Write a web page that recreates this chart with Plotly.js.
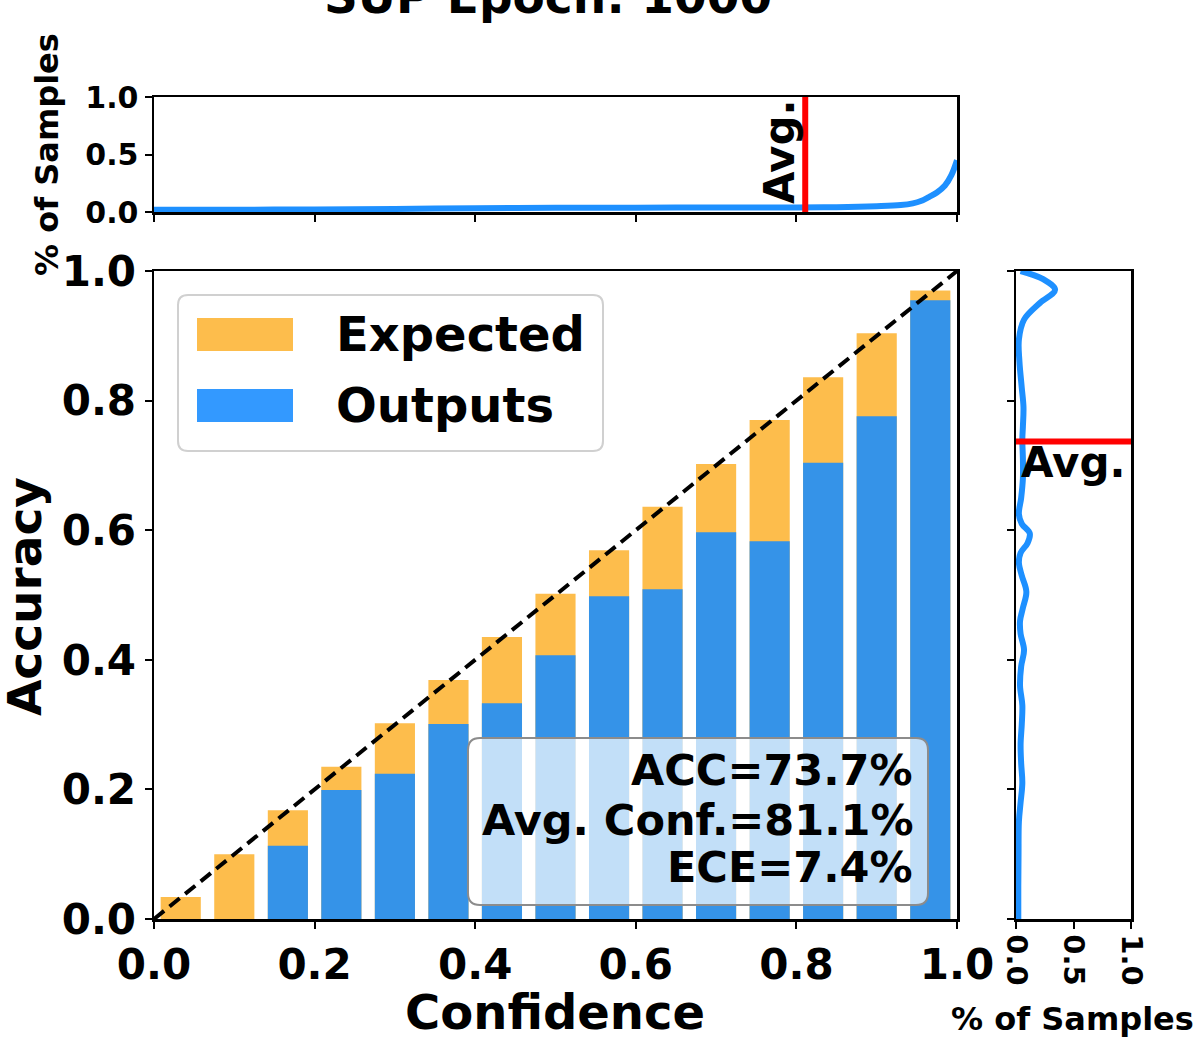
<!DOCTYPE html>
<html>
<head>
<meta charset="utf-8">
<script src="https://cdn.plot.ly/plotly-3.0.1.min.js"></script>
<style>html,body{margin:0;padding:0;background:#fff;}#chart{width:1196px;height:1038px;}</style>
</head>
<body>
<div id="chart"></div>
<script>
// ---- data ----
const binCenters = [0.0333, 0.1, 0.1667, 0.2333, 0.3, 0.3667, 0.4333, 0.5, 0.5667, 0.6333, 0.7, 0.7667, 0.8333, 0.9, 0.9667];
const expected   = [0.034, 0.100, 0.168, 0.235, 0.302, 0.369, 0.435, 0.502, 0.569, 0.636, 0.702, 0.770, 0.836, 0.904, 0.970];
const outputs    = [0.0, 0.0, 0.113, 0.199, 0.224, 0.301, 0.333, 0.407, 0.498, 0.509, 0.597, 0.583, 0.704, 0.776, 0.955];
const confGrid    = [0, 0.1, 0.2, 0.3, 0.4, 0.5, 0.6, 0.7, 0.8, 0.85, 0.9, 0.93, 0.945, 0.955, 0.965, 0.975, 0.985, 0.993, 1.0];
const confDensity = [0.02, 0.02, 0.022, 0.027, 0.032, 0.036, 0.038, 0.039, 0.04, 0.042, 0.05, 0.06, 0.075, 0.095, 0.13, 0.17, 0.23, 0.32, 0.45];
const accGrid    = [1.0, 0.987, 0.971, 0.951, 0.925, 0.894, 0.86, 0.82, 0.79, 0.76, 0.74, 0.71, 0.68, 0.65, 0.625, 0.61, 0.595, 0.58, 0.565, 0.55, 0.53, 0.505, 0.48, 0.46, 0.44, 0.415, 0.39, 0.36, 0.33, 0.30, 0.27, 0.24, 0.21, 0.18, 0.15, 0.10, 0.05, 0.0];
const accDensity = [0.04, 0.24, 0.34, 0.21, 0.07, 0.025, 0.03, 0.05, 0.065, 0.06, 0.055, 0.06, 0.06, 0.045, 0.025, 0.05, 0.12, 0.10, 0.04, 0.025, 0.05, 0.09, 0.06, 0.035, 0.04, 0.07, 0.045, 0.035, 0.055, 0.05, 0.04, 0.045, 0.055, 0.04, 0.025, 0.022, 0.02, 0.02];
const accuracy = 0.737;
const avgConf = 0.811;
const ece = 0.074;
const mainTicks = [0, 0.2, 0.4, 0.6, 0.8, 1.0];
const mainTickText = ["0.0", "0.2", "0.4", "0.6", "0.8", "1.0"];
const sideTicks = [0, 0.5, 1.0];
const sideTickText = ["0.0", "0.5", "1.0"];
const legendLabels = ["Expected", "Outputs"];
const titleText = "SUP Epoch: 1000";

// ---- styling ----
const W = 1196, H = 1038;
const FF = "DejaVu Sans";
const ORANGE = "#FDBD4C", BLUE_BAR = "#3593E8", BLUE_LEG = "#3399FF", CURVE = "#1E90FF";
const px = x => x / W;
const py = y => 1 - y / H;
const bold = (size) => ({family: FF, size: size, color: "#000", weight: "bold"});

function roundRect(x0, y0, x1, y1, r) {
  const X0 = px(x0), X1 = px(x1), Y0 = py(y0), Y1 = py(y1);
  const rx = r / W, ry = r / H;
  return `M ${X0 + rx},${Y0} L ${X1 - rx},${Y0} Q ${X1},${Y0} ${X1},${Y0 - ry} ` +
         `L ${X1},${Y1 + ry} Q ${X1},${Y1} ${X1 - rx},${Y1} L ${X0 + rx},${Y1} ` +
         `Q ${X0},${Y1} ${X0},${Y1 + ry} L ${X0},${Y0 - ry} Q ${X0},${Y0} ${X0 + rx},${Y0} Z`;
}

const axisBase = {
  showline: true, mirror: true, linecolor: "#000", linewidth: 2.5,
  ticks: "outside", ticklen: 7, tickwidth: 2, tickcolor: "#000",
  showgrid: false, zeroline: false, range: [0, 1], fixedrange: true
};

const traces = [
  {type: "bar", x: binCenters, y: expected, width: 0.05, marker: {color: ORANGE, line: {width: 0}},
   xaxis: "x", yaxis: "y", showlegend: false, name: legendLabels[0]},
  {type: "bar", x: binCenters, y: outputs, width: 0.05, marker: {color: BLUE_BAR, line: {width: 0}},
   xaxis: "x", yaxis: "y", showlegend: false, name: legendLabels[1]},
  {type: "scatter", mode: "lines", x: [0, 1], y: [0, 1], line: {color: "#000", width: 4, dash: "13px,7px"},
   xaxis: "x", yaxis: "y", showlegend: false},
  {type: "scatter", mode: "lines", x: confGrid, y: confDensity, line: {color: CURVE, width: 6, shape: "spline"},
   xaxis: "x2", yaxis: "y2", showlegend: false},
  {type: "scatter", mode: "lines", x: [avgConf, avgConf], y: [0, 1], line: {color: "#FF0000", width: 6},
   xaxis: "x2", yaxis: "y2", showlegend: false},
  {type: "scatter", mode: "lines", x: accDensity, y: accGrid, line: {color: CURVE, width: 6, shape: "spline"},
   xaxis: "x3", yaxis: "y3", showlegend: false},
  {type: "scatter", mode: "lines", x: [0, 1], y: [accuracy, accuracy], line: {color: "#FF0000", width: 6},
   xaxis: "x3", yaxis: "y3", showlegend: false}
];

const fmt = v => (v * 100).toFixed(1) + "%";

const layout = {
  width: W, height: H,
  margin: {l: 0, r: 0, t: 0, b: 0},
  paper_bgcolor: "#fff", plot_bgcolor: "#fff",
  barmode: "overlay",
  showlegend: false,
  font: {family: FF},
  xaxis: Object.assign({}, axisBase, {domain: [px(154), px(957)], anchor: "y",
    tickvals: mainTicks, ticktext: mainTickText, tickfont: bold(42)}),
  yaxis: Object.assign({}, axisBase, {domain: [py(919), py(271)], anchor: "x",
    tickvals: mainTicks, ticktext: mainTickText, tickfont: bold(42)}),
  xaxis2: Object.assign({}, axisBase, {domain: [px(154), px(957)], anchor: "y2",
    tickvals: mainTicks, showticklabels: false}),
  yaxis2: Object.assign({}, axisBase, {domain: [py(212), py(97)], anchor: "x2",
    tickvals: sideTicks, ticktext: sideTickText, tickfont: bold(30)}),
  xaxis3: Object.assign({}, axisBase, {domain: [px(1016), px(1131)], anchor: "y3",
    tickvals: sideTicks, ticktext: sideTickText, tickfont: bold(29), tickangle: 90}),
  yaxis3: Object.assign({}, axisBase, {domain: [py(919), py(271)], anchor: "x3",
    tickvals: mainTicks, showticklabels: false}),
  shapes: [
    // legend frame and patches
    {type: "path", xref: "paper", yref: "paper", path: roundRect(178, 295, 603, 451, 10),
     fillcolor: "rgba(255,255,255,0.8)", line: {color: "#D0D0D0", width: 2}, layer: "above"},
    {type: "rect", xref: "paper", yref: "paper", x0: px(197), x1: px(293), y0: py(351), y1: py(318),
     fillcolor: ORANGE, line: {width: 0}, layer: "above"},
    {type: "rect", xref: "paper", yref: "paper", x0: px(197), x1: px(293), y0: py(422), y1: py(389),
     fillcolor: BLUE_LEG, line: {width: 0}, layer: "above"},
    // stats box
    {type: "path", xref: "paper", yref: "paper", path: roundRect(468, 738, 928, 905, 12),
     fillcolor: "rgba(255,255,255,0.7)", line: {color: "#8C8C8C", width: 2}, layer: "above"}
  ],
  annotations: [
    {xref: "paper", yref: "paper", x: px(548), y: py(26), xanchor: "center", yanchor: "bottom",
     text: titleText, showarrow: false, font: bold(47)},
    {xref: "paper", yref: "paper", x: px(334), y: py(334), xanchor: "left", yanchor: "middle",
     text: legendLabels[0], showarrow: false, font: bold(48)},
    {xref: "paper", yref: "paper", x: px(334), y: py(405), xanchor: "left", yanchor: "middle",
     text: legendLabels[1], showarrow: false, font: bold(48)},
    {xref: "paper", yref: "paper", x: px(915), y: py(770), xanchor: "right", yanchor: "middle",
     text: "ACC=" + fmt(accuracy), showarrow: false, font: bold(43)},
    {xref: "paper", yref: "paper", x: px(915), y: py(820), xanchor: "right", yanchor: "middle",
     text: "Avg. Conf.=" + fmt(avgConf), showarrow: false, font: bold(43)},
    {xref: "paper", yref: "paper", x: px(915), y: py(867), xanchor: "right", yanchor: "middle",
     text: "ECE=" + fmt(ece), showarrow: false, font: bold(43)},
    {xref: "paper", yref: "paper", x: px(779), y: py(152), xanchor: "center", yanchor: "middle",
     text: "Avg.", textangle: -90, showarrow: false, font: bold(42)},
    {xref: "paper", yref: "paper", x: px(1073), y: py(463), xanchor: "center", yanchor: "middle",
     text: "Avg.", showarrow: false, font: bold(42)},
    // axis titles
    {xref: "paper", yref: "paper", x: px(555), y: py(1012), xanchor: "center", yanchor: "middle",
     text: "Confidence", showarrow: false, font: bold(48)},
    {xref: "paper", yref: "paper", x: px(24), y: py(597), xanchor: "center", yanchor: "middle",
     text: "Accuracy", textangle: -90, showarrow: false, font: bold(47)},
    {xref: "paper", yref: "paper", x: px(47), y: py(155), xanchor: "center", yanchor: "middle",
     text: "% of Samples", textangle: -90, showarrow: false, font: bold(32)},
    {xref: "paper", yref: "paper", x: px(1072), y: py(1019), xanchor: "center", yanchor: "middle",
     text: "% of Samples", showarrow: false, font: bold(32)}
  ]
};

Plotly.newPlot("chart", traces, layout, {staticPlot: true, displayModeBar: false});
</script>
</body>
</html>
